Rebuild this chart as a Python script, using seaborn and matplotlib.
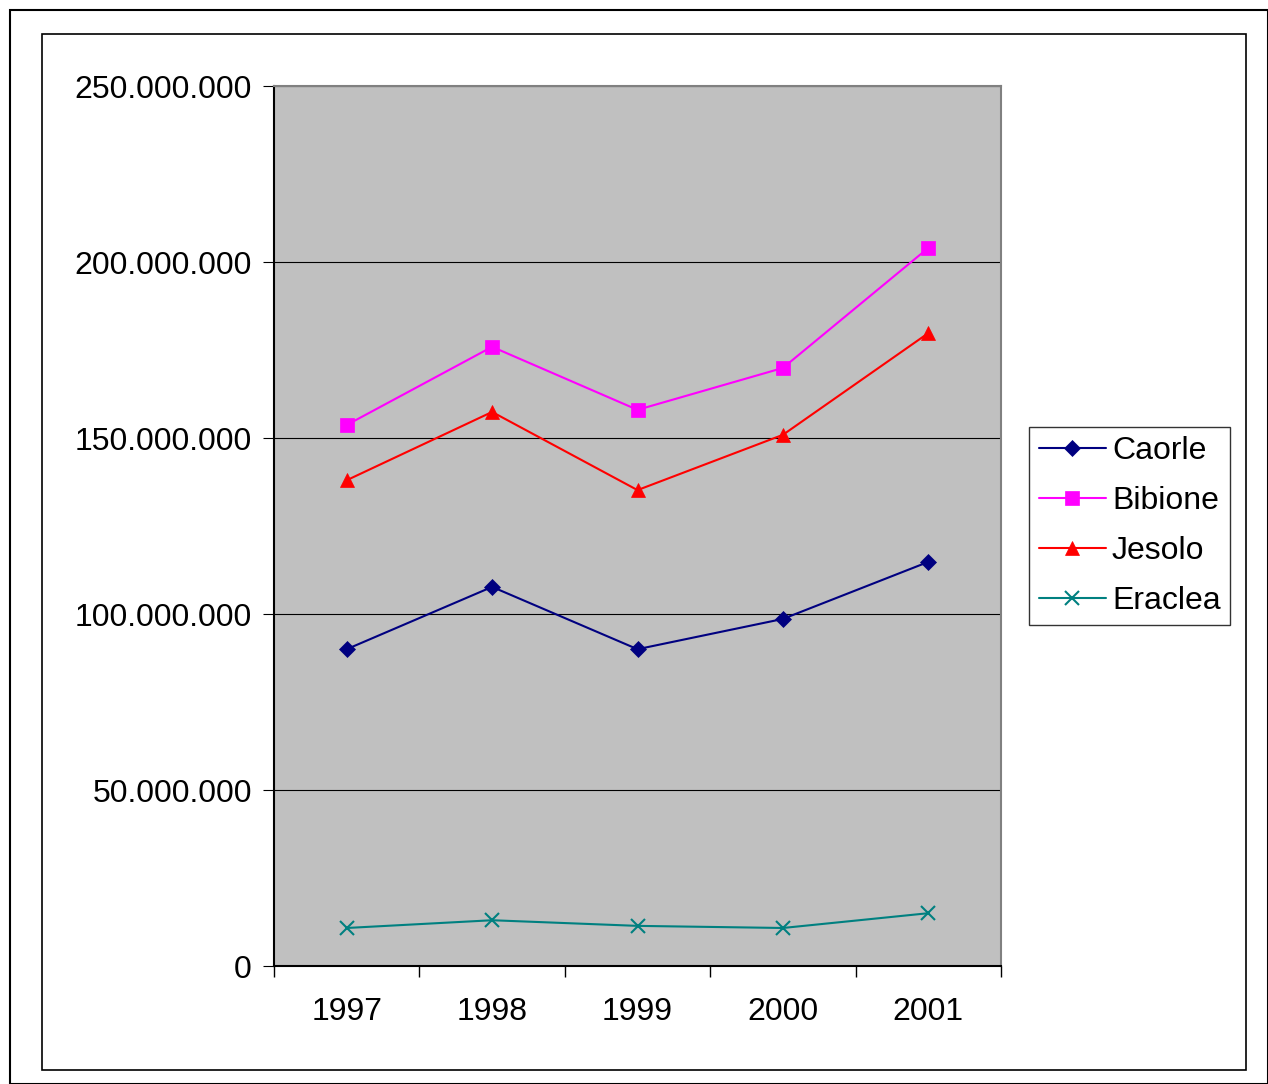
import matplotlib
matplotlib.use('Agg')
import matplotlib.pyplot as plt
from matplotlib.ticker import FuncFormatter, FixedLocator
from matplotlib.patches import Rectangle
import seaborn as sns
import pandas as pd

years = ['1997', '1998', '1999', '2000', '2001']
caorle = [90.0e6, 107.7e6, 90.0e6, 98.6e6, 114.8e6]
bibione = [153.7e6, 175.9e6, 158.0e6, 169.9e6, 204.0e6]
jesolo = [138.0e6, 157.4e6, 135.2e6, 150.9e6, 179.8e6]
eraclea = [10.8e6, 13.0e6, 11.4e6, 10.8e6, 15.0e6]

series = [('Caorle', caorle, '#000080', 'D', 8),
          ('Bibione', bibione, '#FF00FF', 's', 10),
          ('Jesolo', jesolo, '#FF0000', '^', 10),
          ('Eraclea', eraclea, '#008080', 'x', 10)]

sns.set_style('white')
plt.rcParams['font.family'] = ['Liberation Sans', 'DejaVu Sans']
plt.rcParams['text.color'] = 'black'
plt.rcParams['xtick.color'] = 'black'
plt.rcParams['ytick.color'] = 'black'
plt.rcParams['xtick.bottom'] = True
plt.rcParams['ytick.left'] = True

fig = plt.figure(figsize=(12.68, 10.84), dpi=100)
fig.patches.append(Rectangle((10/1268, 0), 1258/1268, 1074/1084, transform=fig.transFigure,
                             fill=False, edgecolor='black', linewidth=1.5))
fig.patches.append(Rectangle((42/1268, 14/1084), 1204/1268, 1036/1084, transform=fig.transFigure,
                             fill=False, edgecolor='black', linewidth=1.2))

ax = fig.add_axes([274/1268, 118/1084, 727/1268, 880/1084])
ax.set_facecolor('#C0C0C0')
x = list(range(len(years)))
for name, vals, col, mk, ms in series:
    df = pd.DataFrame({'x': x, 'y': vals})
    sns.lineplot(data=df, x='x', y='y', ax=ax, color=col, marker=mk, markersize=ms,
                 markeredgecolor=col, markeredgewidth=1.5 if mk == 'x' else 0.5,
                 linewidth=1.5, label=name)

ax.set_xlim(-0.5, 4.5)
ax.set_ylim(0, 250e6)
ax.set_yticks([0, 50e6, 100e6, 150e6, 200e6, 250e6])
ax.yaxis.set_major_formatter(FuncFormatter(lambda v, p: f'{int(v):,}'.replace(',', '.')))
ax.grid(axis='y', color='black', linewidth=0.8)
ax.set_xticks(x)
ax.set_xticklabels(years)
ax.xaxis.set_minor_locator(FixedLocator([-0.5, 0.5, 1.5, 2.5, 3.5, 4.5]))
ax.tick_params(axis='x', which='major', length=0, labelsize=23, pad=22)
ax.tick_params(axis='x', which='minor', bottom=True, length=8, direction='out', width=1, color='black')
ax.tick_params(axis='y', length=8, direction='out', labelsize=23, left=True, pad=8)
ax.set_xlabel('')
ax.set_ylabel('')
for s in ax.spines.values():
    s.set_color('#808080')
    s.set_linewidth(1.5)
ax.spines['left'].set_color('black')
ax.spines['bottom'].set_color('black')

leg = ax.legend(loc='center left', bbox_to_anchor=(1.0385, 0.5), fontsize=23, frameon=True,
                fancybox=False, edgecolor='black', handlelength=2.1, borderpad=0.3,
                labelspacing=0.62, handletextpad=0.2, borderaxespad=0)
leg.get_frame().set_linewidth(1)

fig.savefig('out.png', dpi=100)
